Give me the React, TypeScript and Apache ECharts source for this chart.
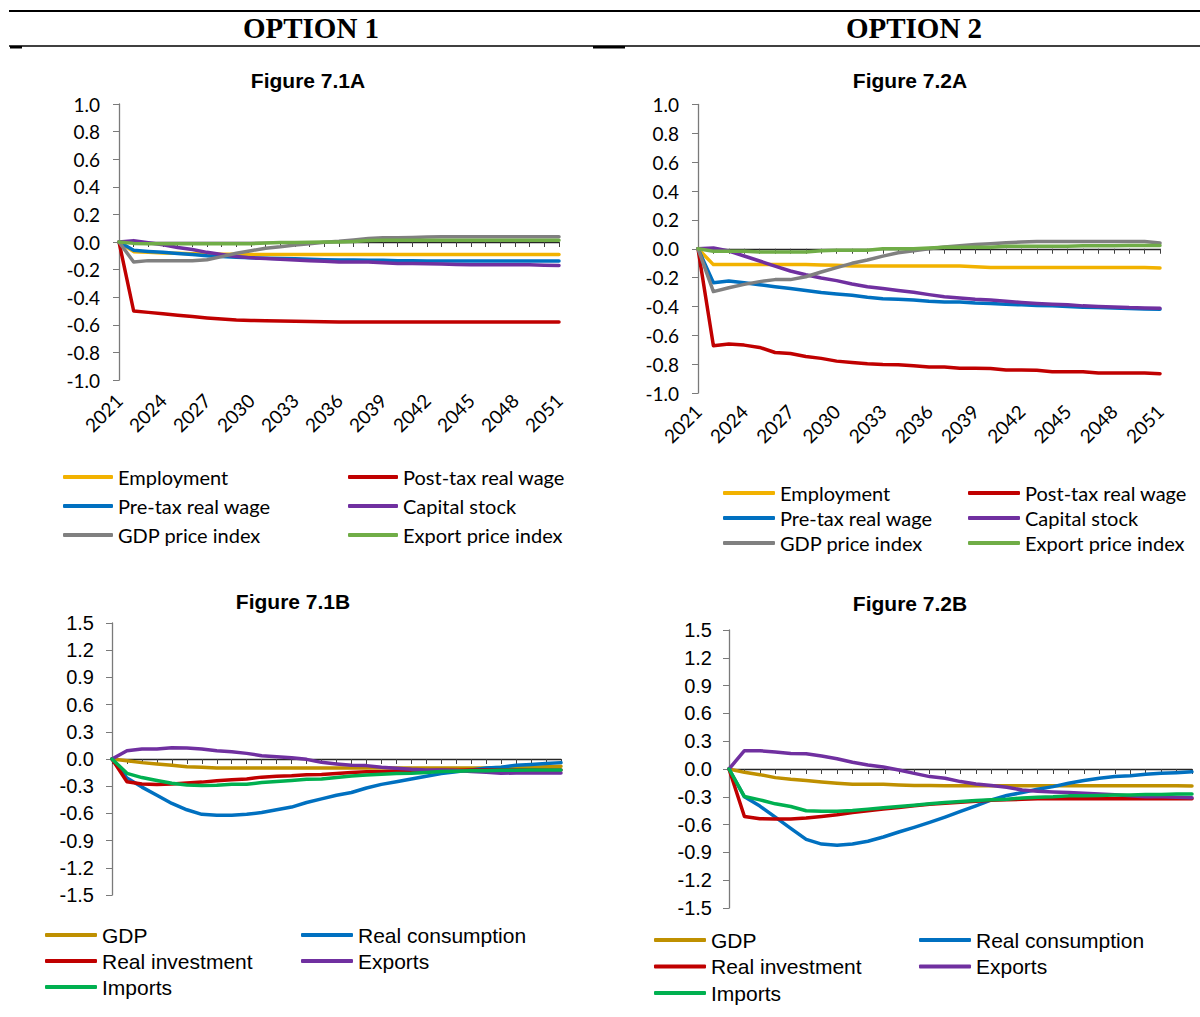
import React, { useEffect, useRef } from 'react';
import * as echarts from 'echarts';

// ---------- categories ----------
const years = [
  '2021', '2022', '2023', '2024', '2025', '2026', '2027', '2028', '2029', '2030', '2031',
  '2032', '2033', '2034', '2035', '2036', '2037', '2038', '2039', '2040', '2041',
  '2042', '2043', '2044', '2045', '2046', '2047', '2048', '2049', '2050', '2051',
];

// ---------- Figure 7.1A ----------
const employment71 = [
  0, -0.07, -0.075, -0.08, -0.082, -0.085, -0.087, -0.088, -0.089, -0.09, -0.09,
  -0.09, -0.09, -0.09, -0.09, -0.09, -0.09, -0.09, -0.09, -0.09, -0.09,
  -0.09, -0.09, -0.09, -0.09, -0.09, -0.09, -0.09, -0.09, -0.09, -0.09,
];
const postTax71 = [
  0, -0.5, -0.51, -0.52, -0.53, -0.54, -0.55, -0.558, -0.565, -0.568, -0.571,
  -0.573, -0.575, -0.576, -0.578, -0.58, -0.58, -0.58, -0.58, -0.58, -0.58,
  -0.58, -0.58, -0.58, -0.58, -0.58, -0.58, -0.58, -0.58, -0.58, -0.58,
];
const preTax71 = [
  0, -0.06, -0.068, -0.075, -0.083, -0.09, -0.1, -0.105, -0.11, -0.115, -0.118,
  -0.12, -0.122, -0.125, -0.128, -0.13, -0.131, -0.132, -0.133, -0.135, -0.136,
  -0.137, -0.138, -0.138, -0.138, -0.138, -0.138, -0.138, -0.138, -0.138, -0.138,
];
const capital71 = [
  0, 0.01, -0.005, -0.02, -0.04, -0.055, -0.075, -0.09, -0.105, -0.115, -0.12,
  -0.125, -0.13, -0.135, -0.14, -0.145, -0.145, -0.145, -0.15, -0.155, -0.155,
  -0.157, -0.16, -0.163, -0.165, -0.165, -0.165, -0.165, -0.165, -0.168, -0.17,
];
const gdpPrice71 = [
  0, -0.145, -0.135, -0.135, -0.136, -0.136, -0.128, -0.106, -0.082, -0.063, -0.045,
  -0.035, -0.022, -0.012, -0.002, 0.005, 0.015, 0.025, 0.03, 0.03, 0.033,
  0.037, 0.038, 0.038, 0.038, 0.038, 0.038, 0.038, 0.038, 0.038, 0.038,
];
const exportPrice71 = [
  0, -0.01, -0.012, -0.012, -0.012, -0.012, -0.012, -0.012, -0.012, -0.012, -0.008,
  -0.003, -0.003, -0.002, 0, 0, 0.003, 0.01, 0.012, 0.012, 0.012,
  0.012, 0.013, 0.013, 0.013, 0.013, 0.013, 0.013, 0.013, 0.013, 0.013,
];

// ---------- Figure 7.2A ----------
const employment72 = [
  0, -0.11, -0.11, -0.11, -0.11, -0.11, -0.11, -0.11, -0.112, -0.115, -0.12,
  -0.12, -0.12, -0.12, -0.12, -0.12, -0.12, -0.12, -0.125, -0.13, -0.13,
  -0.13, -0.13, -0.13, -0.13, -0.13, -0.13, -0.13, -0.13, -0.13, -0.133,
];
const postTax72 = [
  0, -0.673, -0.661, -0.668, -0.684, -0.719, -0.726, -0.747, -0.76, -0.779, -0.788,
  -0.797, -0.802, -0.804, -0.811, -0.82, -0.82, -0.829, -0.829, -0.83, -0.841,
  -0.841, -0.843, -0.853, -0.853, -0.853, -0.862, -0.862, -0.862, -0.862, -0.866,
];
const preTax72 = [
  0, -0.235, -0.224, -0.235, -0.249, -0.263, -0.276, -0.29, -0.304, -0.313, -0.323,
  -0.336, -0.346, -0.35, -0.355, -0.364, -0.369, -0.369, -0.376, -0.38, -0.385,
  -0.389, -0.394, -0.396, -0.4, -0.405, -0.408, -0.41, -0.415, -0.417, -0.419,
];
const capital72 = [
  0, 0.005, -0.016, -0.05, -0.085, -0.12, -0.154, -0.18, -0.203, -0.221, -0.244,
  -0.263, -0.276, -0.29, -0.302, -0.318, -0.332, -0.341, -0.35, -0.355, -0.364,
  -0.373, -0.38, -0.385, -0.389, -0.396, -0.4, -0.403, -0.408, -0.41, -0.412,
];
const gdpPrice72 = [
  0, -0.297, -0.27, -0.247, -0.228, -0.214, -0.214, -0.194, -0.161, -0.131, -0.101,
  -0.078, -0.051, -0.028, -0.014, 0, 0.012, 0.021, 0.03, 0.035, 0.041,
  0.046, 0.05, 0.05, 0.05, 0.05, 0.05, 0.05, 0.05, 0.05, 0.04,
];
const exportPrice72 = [
  0, -0.018, -0.018, -0.018, -0.023, -0.023, -0.023, -0.023, -0.014, -0.01, -0.01,
  -0.01, 0, 0, 0, 0.005, 0.01, 0.01, 0.01, 0.01, 0.018,
  0.018, 0.018, 0.018, 0.018, 0.02, 0.02, 0.02, 0.022, 0.022, 0.023,
];

// ---------- Figure 7.1B ----------
const gdp71 = [
  0, -0.02, -0.04, -0.055, -0.07, -0.085, -0.09, -0.1, -0.1, -0.1, -0.1,
  -0.1, -0.1, -0.1, -0.1, -0.1, -0.1, -0.1, -0.1, -0.1, -0.1,
  -0.1, -0.1, -0.1, -0.1, -0.1, -0.095, -0.09, -0.09, -0.085, -0.08,
];
const consumption71 = [
  0, -0.21, -0.31, -0.4, -0.49, -0.56, -0.61, -0.62, -0.62, -0.61, -0.59,
  -0.56, -0.53, -0.48, -0.44, -0.4, -0.37, -0.32, -0.28, -0.25, -0.22,
  -0.19, -0.16, -0.14, -0.12, -0.1, -0.09, -0.07, -0.06, -0.05, -0.04,
];
const investment71 = [
  0, -0.25, -0.275, -0.28, -0.275, -0.265, -0.255, -0.24, -0.23, -0.22, -0.2,
  -0.19, -0.185, -0.175, -0.17, -0.16, -0.15, -0.14, -0.14, -0.135, -0.13,
  -0.13, -0.125, -0.125, -0.12, -0.12, -0.12, -0.12, -0.12, -0.12, -0.12,
];
const exports71 = [
  0, 0.092, 0.11, 0.11, 0.125, 0.121, 0.11, 0.092, 0.081, 0.062, 0.037,
  0.026, 0.015, -0.004, -0.037, -0.055, -0.07, -0.073, -0.092, -0.103, -0.114,
  -0.121, -0.121, -0.128, -0.139, -0.147, -0.158, -0.154, -0.154, -0.154, -0.154,
];
const imports71 = [
  0, -0.158, -0.205, -0.238, -0.268, -0.286, -0.293, -0.29, -0.279, -0.279, -0.26,
  -0.249, -0.238, -0.224, -0.22, -0.205, -0.187, -0.176, -0.169, -0.161, -0.158,
  -0.15, -0.139, -0.136, -0.13, -0.13, -0.125, -0.125, -0.12, -0.12, -0.12,
];

// ---------- Figure 7.2B ----------
const gdp72 = [
  0, -0.036, -0.061, -0.093, -0.111, -0.125, -0.14, -0.154, -0.165, -0.165, -0.165,
  -0.172, -0.179, -0.179, -0.18, -0.18, -0.18, -0.18, -0.18, -0.18, -0.18,
  -0.18, -0.18, -0.18, -0.18, -0.18, -0.18, -0.18, -0.18, -0.18, -0.183,
];
const consumption72 = [
  0, -0.3, -0.4, -0.52, -0.64, -0.76, -0.81, -0.823, -0.809, -0.78, -0.734,
  -0.68, -0.63, -0.576, -0.519, -0.458, -0.397, -0.333, -0.286, -0.254, -0.218,
  -0.19, -0.154, -0.125, -0.1, -0.082, -0.072, -0.057, -0.047, -0.04, -0.03,
];
const investment72 = [
  0, -0.512, -0.537, -0.54, -0.54, -0.53, -0.512, -0.494, -0.469, -0.451, -0.433,
  -0.415, -0.397, -0.38, -0.369, -0.358, -0.347, -0.337, -0.333, -0.326, -0.322,
  -0.322, -0.322, -0.322, -0.322, -0.322, -0.322, -0.32, -0.32, -0.32, -0.32,
];
const exports72 = [
  0, 0.197, 0.197, 0.183, 0.168, 0.165, 0.14, 0.111, 0.072, 0.043, 0.021,
  -0.011, -0.047, -0.082, -0.1, -0.136, -0.161, -0.179, -0.197, -0.226, -0.24,
  -0.247, -0.254, -0.261, -0.269, -0.279, -0.29, -0.3, -0.3, -0.305, -0.31,
];
const imports72 = [
  0, -0.297, -0.333, -0.376, -0.405, -0.451, -0.455, -0.455, -0.448, -0.433, -0.419,
  -0.405, -0.39, -0.376, -0.362, -0.351, -0.34, -0.333, -0.326, -0.312, -0.304,
  -0.3, -0.29, -0.29, -0.285, -0.28, -0.28, -0.275, -0.275, -0.27, -0.27,
];

// ---------- names / tick values ----------
const namesA = ['Employment', 'Post-tax real wage', 'Pre-tax real wage', 'Capital stock', 'GDP price index', 'Export price index'];
const colorsA = ['#F2B200', '#C00000', '#0070C0', '#7030A0', '#808080', '#70AD47'];
const namesB = ['GDP', 'Real consumption', 'Real investment', 'Exports', 'Imports'];
const colorsB = ['#BF9000', '#0070C0', '#C00000', '#7030A0', '#00B050'];
const yRangeA = { min: -1.0, max: 1.0, interval: 0.2 };
const yRangeB = { min: -1.5, max: 1.5, interval: 0.3 };

const panels = [
  { grid: { left: 119, top: 104, width: 440, height: 276 }, names: namesA, colors: colorsA,
    data: [employment71, postTax71, preTax71, capital71, gdpPrice71, exportPrice71], range: yRangeA,
    font: 'Lato', fontSize: 19, xLabels: true, xMargin: 17, yMargin: 19 },
  { grid: { left: 698, top: 104.5, width: 462, height: 288.5 }, names: namesA, colors: colorsA,
    data: [employment72, postTax72, preTax72, capital72, gdpPrice72, exportPrice72], range: yRangeA,
    font: 'Lato', fontSize: 19, xLabels: true, xMargin: 15, yMargin: 19 },
  { grid: { left: 112, top: 623, width: 449, height: 272 }, names: namesB, colors: colorsB,
    data: [gdp71, consumption71, investment71, exports71, imports71], range: yRangeB,
    font: 'Liberation Sans', fontSize: 20, xLabels: false, xMargin: 0, yMargin: 18 },
  { grid: { left: 729, top: 630, width: 463, height: 278 }, names: namesB, colors: colorsB,
    data: [gdp72, consumption72, investment72, exports72, imports72], range: yRangeB,
    font: 'Liberation Sans', fontSize: 20, xLabels: false, xMargin: 0, yMargin: 17 },
];

const legendDefs = [
  { left: 63, top: 466, gap: 7, font: 'Lato', size: 20, lh: 22, w: 50, data: ['Employment', 'Pre-tax real wage', 'GDP price index'] },
  { left: 348, top: 466, gap: 7, font: 'Lato', size: 20, lh: 22, w: 50, data: ['Post-tax real wage', 'Capital stock', 'Export price index'] },
  { left: 723, top: 482, gap: 3, font: 'Lato', size: 20, lh: 22, w: 52, data: ['Employment', 'Pre-tax real wage', 'GDP price index'] },
  { left: 968, top: 482, gap: 3, font: 'Lato', size: 20, lh: 22, w: 52, data: ['Post-tax real wage', 'Capital stock', 'Export price index'] },
  { left: 45, top: 924, gap: 4, font: 'Liberation Sans', size: 21, lh: 22, w: 52, data: ['GDP', 'Real investment', 'Imports'] },
  { left: 301, top: 924, gap: 4, font: 'Liberation Sans', size: 21, lh: 22, w: 52, data: ['Real consumption', 'Exports'] },
  { left: 654, top: 929, gap: 4.5, font: 'Liberation Sans', size: 21, lh: 22, w: 52, data: ['GDP', 'Real investment', 'Imports'] },
  { left: 919, top: 929, gap: 4.5, font: 'Liberation Sans', size: 21, lh: 22, w: 52, data: ['Real consumption', 'Exports'] },
];

const fmt = (v: number) => (Math.abs(v) < 1e-9 ? '0.0' : v.toFixed(1));

function buildOption() {
  const grid: any[] = [];
  const xAxis: any[] = [];
  const yAxis: any[] = [];
  const series: any[] = [];
  panels.forEach((p, i) => {
    grid.push({ ...p.grid, containLabel: false });
    xAxis.push({
      type: 'category', gridIndex: i, data: years, boundaryGap: false,
      axisLine: { show: true, onZero: true, lineStyle: { color: '#262626', width: 1.3 } },
      axisTick: { show: true, interval: 0, length: 5, lineStyle: { color: '#404040', width: 1 } },
      axisLabel: p.xLabels
        ? { show: true, interval: 2, rotate: 45, margin: p.xMargin, fontFamily: p.font, fontSize: p.fontSize, color: '#000' }
        : { show: false },
      splitLine: { show: false },
    });
    yAxis.push({
      type: 'value', gridIndex: i, min: p.range.min, max: p.range.max, interval: p.range.interval,
      axisLine: { show: true, onZero: false, lineStyle: { color: '#7a7a7a', width: 1.3 } },
      axisTick: { show: true, length: 6, lineStyle: { color: '#7a7a7a', width: 1 } },
      splitLine: { show: false },
      axisLabel: { margin: p.yMargin, fontFamily: p.font, fontSize: p.fontSize, color: '#000', formatter: fmt },
    });
    p.names.forEach((name, k) => {
      series.push({
        type: 'line', name, xAxisIndex: i, yAxisIndex: i, data: p.data[k],
        showSymbol: false, symbol: 'none', smooth: false,
        lineStyle: { width: 3.5, color: p.colors[k], cap: 'round', join: 'round' },
        itemStyle: { color: p.colors[k] },
        emphasis: { disabled: true },
        z: 2 + k,
      });
    });
  });

  const legend = legendDefs.map((l) => ({
    orient: 'vertical', left: l.left, top: l.top, padding: 0,
    itemWidth: l.w, itemHeight: 4, itemGap: l.gap, icon: 'roundRect',
    selectedMode: false, data: l.data,
    textStyle: { fontFamily: l.font, fontSize: l.size, lineHeight: l.lh, color: '#000' },
  }));

  const txt = (text: string, x: number, y: number, font: string, size: number) => ({
    type: 'text', x, y, silent: true,
    style: {
      text, fontFamily: font, fontSize: size, fontWeight: 'bold', fill: '#000',
      textAlign: 'center', textVerticalAlign: 'middle', align: 'center', verticalAlign: 'middle',
    },
  });
  const hline = (x1: number, x2: number, y: number, w: number) => ({
    type: 'line', silent: true, shape: { x1, y1: y, x2, y2: y }, style: { stroke: '#000', lineWidth: w },
  });

  const graphic = [
    hline(9, 1200, 11, 2),
    hline(9, 1200, 46, 1.5),
    { type: 'rect', silent: true, shape: { x: 10, y: 46, width: 12, height: 2.5 }, style: { fill: '#000' } },
    { type: 'rect', silent: true, shape: { x: 593, y: 46, width: 32, height: 2.5 }, style: { fill: '#000' } },
    txt('OPTION 1', 311, 28, 'Liberation Serif', 29),
    txt('OPTION 2', 914, 28, 'Liberation Serif', 29),
    txt('Figure 7.1A', 308, 80, 'Liberation Sans', 21),
    txt('Figure 7.2A', 910, 80, 'Liberation Sans', 21),
    txt('Figure 7.1B', 293, 601, 'Liberation Sans', 21),
    txt('Figure 7.2B', 910, 603, 'Liberation Sans', 21),
  ];

  return { animation: false, backgroundColor: '#ffffff', grid, xAxis, yAxis, series, legend, graphic };
}

export default function App() {
  const ref = useRef<HTMLDivElement>(null);
  useEffect(() => {
    if (!ref.current) return;
    const chart = echarts.init(ref.current, null, { renderer: 'svg' });
    chart.setOption(buildOption() as any);
    return () => chart.dispose();
  }, []);
  return (
    <div
      ref={ref}
      style={{ position: 'absolute', left: 0, top: 0, width: 1200, height: 1017, background: '#ffffff' }}
    />
  );
}
